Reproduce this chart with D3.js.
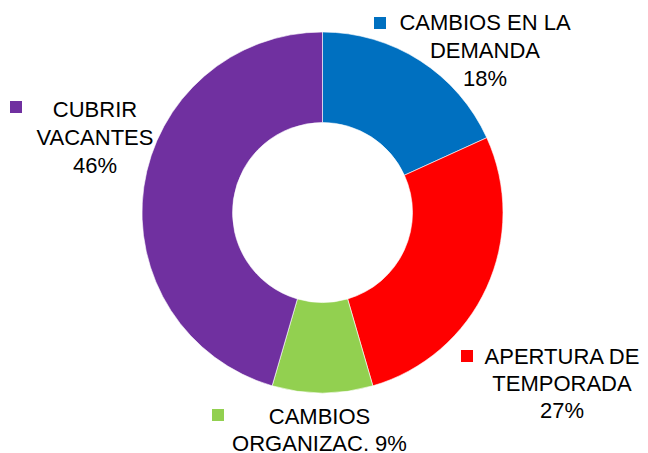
<!DOCTYPE html>
<html>
<head>
<meta charset="utf-8">
<script src="https://cdn.jsdelivr.net/npm/d3@7"></script>
<style>
html,body{margin:0;padding:0;background:#fff;}
svg{display:block;}
text{font-family:"Liberation Sans",Arial,sans-serif;fill:#000;}
</style>
</head>
<body>
<script>
// Data
const categories = ["CAMBIOS EN LA DEMANDA", "APERTURA DE TEMPORADA", "CAMBIOS ORGANIZAC.", "CUBRIR VACANTES"];
const values = [18.2, 27.3, 9.0, 45.5];
const colors = ["#0070C0", "#FF0000", "#92D050", "#7030A0"];
// how each label's name is broken into lines; the percentage is appended
const nameLines = [["CAMBIOS EN LA", "DEMANDA"], ["APERTURA DE", "TEMPORADA"], ["CAMBIOS", "ORGANIZAC."], ["CUBRIR", "VACANTES"]];
const pctOnLastLine = [false, false, true, false];

// Layout (not data)
const W = 648, H = 453;
const cx = 322.5, cy = 212.5, rOuter = 180.5, rInner = 90;
const labelLayout = [
  {x: 485, y: 30, mx: 374, my: 17, lh: 27.8},
  {x: 562, y: 364, mx: 461, my: 350, lh: 27},
  {x: 319.5, y: 424, mx: 212, my: 409, lh: 26.5},
  {x: 95, y: 117.3, mx: 10, my: 101, lh: 28}
];
const fontSize = 22, markerSize = 12;

const svg = d3.select("body").append("svg").attr("width", W).attr("height", H);

const total = d3.sum(values);
const pie = d3.pie().sort(null).value(d => d)(values);
const arc = d3.arc().innerRadius(rInner).outerRadius(rOuter);

const g = svg.append("g").attr("transform", `translate(${cx},${cy})`);
g.selectAll("path").data(pie).join("path")
  .attr("d", arc)
  .attr("fill", (d, i) => colors[i])
  .attr("stroke", "#fff").attr("stroke-width", 0.6);

const fmt = v => Math.round(v / total * 100 + 1e-9) + "%";

categories.forEach((c, i) => {
  const L = labelLayout[i];
  let lines = nameLines[i].slice();
  if (pctOnLastLine[i]) lines[lines.length - 1] += " " + fmt(values[i]);
  else lines.push(fmt(values[i]));
  svg.append("rect").attr("x", L.mx).attr("y", L.my)
    .attr("width", markerSize).attr("height", markerSize).attr("fill", colors[i]);
  const t = svg.append("text").attr("text-anchor", "middle").attr("font-size", fontSize);
  lines.forEach((ln, k) => {
    t.append("tspan").attr("x", L.x).attr("y", L.y + k * L.lh).text(ln);
  });
});
</script>
</body>
</html>
